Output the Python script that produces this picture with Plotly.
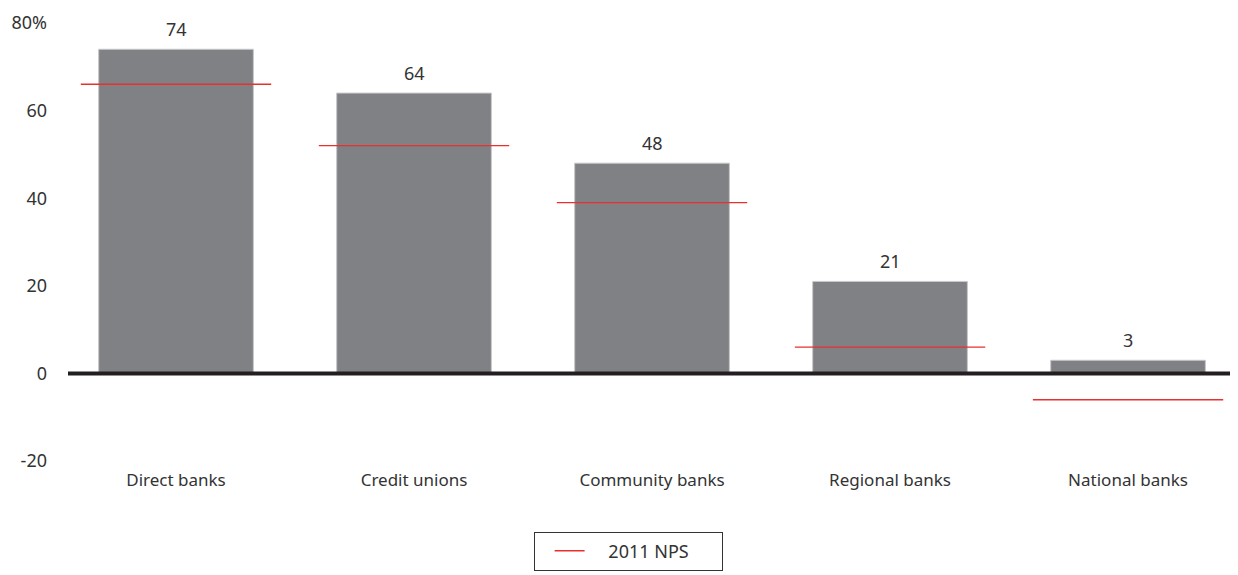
import plotly.graph_objects as go

categories = ["Direct banks", "Credit unions", "Community banks", "Regional banks", "National banks"]
nps_current = [74, 64, 48, 21, 3]
nps_2011 = [66, 52, 39, 6, -6]
y_tick_vals = [-20, 0, 20, 40, 60, 80]
y_tick_text = ["-20", "0", "20", "40", "60", "80%"]

FONT = "'Noto Sans', sans-serif"
TEXT = "#333333"

xs = list(range(len(categories)))

fig = go.Figure()
fig.add_trace(go.Bar(
    x=xs, y=nps_current, width=0.65,
    marker=dict(color="#808184", line=dict(color="#c8c8ca", width=1)),
    showlegend=False, hoverinfo="skip",
))

for i, v in zip(xs, nps_current):
    fig.add_annotation(x=i, y=v, text=str(v), showarrow=False,
                       yanchor="bottom", yshift=6,
                       font=dict(size=18, color=TEXT, family=FONT))

lx, ly = [], []
for i, v in zip(xs, nps_2011):
    lx += [i - 0.4, i + 0.4, None]
    ly += [v, v, None]
fig.add_trace(go.Scatter(
    x=lx, y=ly, mode="lines", name="\u00a0" * 4 + "2011 NPS",
    line=dict(color="#e8312f", width=1.4), hoverinfo="skip",
))

fig.add_shape(type="line", xref="paper", yref="y", x0=0, x1=1, y0=0, y1=0,
              line=dict(color="#231f20", width=4), layer="above")

# page has an 8px body margin, so the figure is 8px smaller and margins shifted
fig.update_layout(
    width=1230, height=567,
    margin=dict(l=60, r=0, t=15, b=114),
    paper_bgcolor="white", plot_bgcolor="white",
    font=dict(family=FONT, size=17, color=TEXT),
    xaxis=dict(
        range=[-0.4538, 4.462], tickvals=xs, ticktext=categories,
        showgrid=False, zeroline=False, showline=False, ticks="",
        ticklabelstandoff=7, tickfont=dict(size=17, color=TEXT),
    ),
    yaxis=dict(
        range=[-20, 80], tickvals=y_tick_vals, ticktext=y_tick_text,
        showgrid=False, zeroline=False, showline=False, ticks="",
        ticklabelstandoff=20, tickfont=dict(size=18, color=TEXT),
    ),
    legend=dict(
        orientation="h", x=0.479, xanchor="center", y=-0.161, yanchor="top",
        bordercolor="#333333", borderwidth=1, bgcolor="white",
        font=dict(size=18, color=TEXT), entrywidth=127,
        title=dict(text="\u00a0", side="left", font=dict(size=18)),
    ),
)

fig.write_html("out.html")
